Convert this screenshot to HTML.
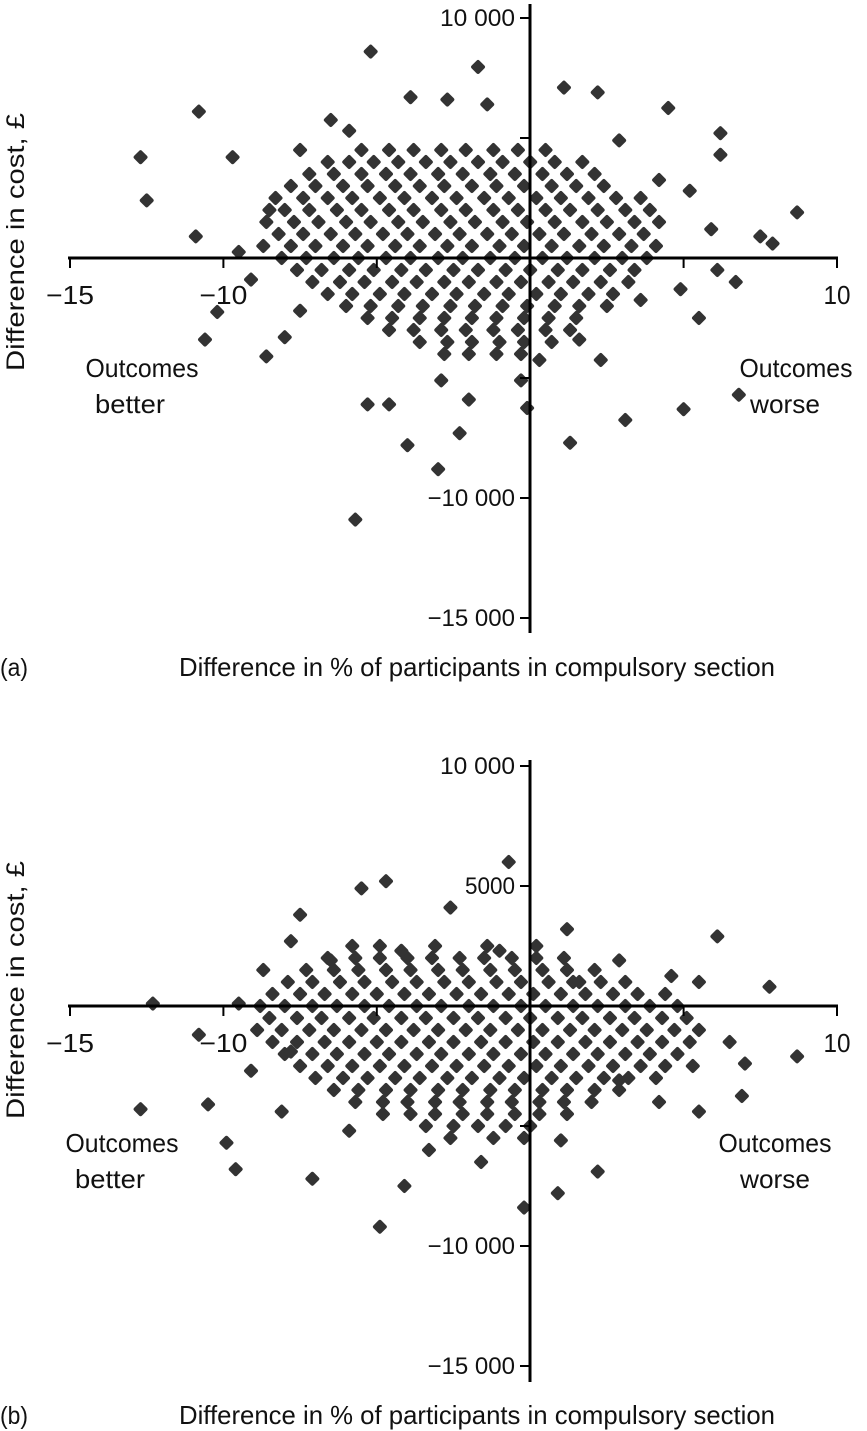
<!DOCTYPE html>
<html><head><meta charset="utf-8"><style>
html,body{margin:0;padding:0;background:#fff;}
svg{display:block;font-family:"Liberation Sans",sans-serif;}
text{fill:#111;}
</style></head><body>
<svg id="chart" width="867" height="1431" viewBox="0 0 867 1431" xmlns="http://www.w3.org/2000/svg"></svg>
<script>
const xTicks=[-15,-10,-5,0,5,10];
const xTickLabels=["−15","−10","","","","10"];
const yTicks=[10000,5000,0,-5000,-10000,-15000];
const yTickLabelsA=["10 000","","","","−10 000","−15 000"];
const yTickLabelsB=["10 000","5000","","","−10 000","−15 000"];
// panel a outliers [x %, y £k]
const outA=[[-5.2,8.6],[-1.7,7.96],[-10.8,6.1],[-12.7,4.2],[-12.5,2.4],[-9.7,4.2],[-10.9,0.9],[-9.5,0.25],[-10.2,-2.25],[-10.6,-3.4],[-8.6,-4.1],[-8.0,-3.3],[-5.3,-6.1],[-4.6,-6.1],[-4.0,-7.8],[-2.3,-7.3],[-3.0,-8.8],[-5.7,-10.9],[-0.1,-6.25],[1.3,-7.7],[3.1,-6.75],[5.0,-6.3],[6.8,-5.7],[6.7,-1.0],[6.1,-0.5],[8.7,1.9],[7.9,0.6],[7.5,0.9],[6.2,5.2],[6.2,4.3],[4.5,6.25],[2.2,6.9],[1.1,7.1],[-1.4,6.4],[-2.7,6.6],[-3.9,6.7],[-6.5,5.75],[5.9,1.2],[4.2,3.25],[5.2,2.8],[4.9,-1.3],[5.5,-2.5],[1.6,-3.4],[-0.3,-5.1],[-2.0,-5.9],[-2.9,-5.1],[-7.5,-2.2],[-9.1,-0.9],[-8.5,2.0],[-7.5,4.5],[-5.9,5.3],[2.9,4.9],[3.9,2.0],[3.6,-1.75],[2.3,-4.25],[0.3,-4.25]];
const coreRowYA=[4.5,4.0,3.5,3.0,2.5,2.0,1.5,1.0,0.5,0.0,-0.5,-1.0,-1.5,-2.0,-2.5,-3.0,-3.5,-4.0];
const coreRowXA=[
[-5.5,-4.6,-3.8,-2.9,-2.1,-1.2,-0.4,0.5],
[-6.6,-5.9,-5.1,-4.3,-3.4,-2.6,-1.7,-0.9,0.0,0.8,1.7],
[-7.2,-6.4,-5.5,-4.7,-3.9,-3.0,-2.2,-1.3,-0.5,0.4,1.2,2.1],
[-7.8,-7.0,-6.1,-5.3,-4.4,-3.6,-2.8,-1.9,-1.1,-0.2,0.7,1.5,2.4],
[-8.3,-7.4,-6.6,-5.8,-4.9,-4.1,-3.2,-2.4,-1.5,-0.7,0.2,1.0,1.9,2.8,3.6],
[-8.0,-7.2,-6.3,-5.5,-4.6,-3.8,-2.9,-2.1,-1.2,-0.4,0.5,1.3,2.2,3.1],
[-8.6,-7.7,-6.9,-6.0,-5.2,-4.3,-3.5,-2.6,-1.8,-0.9,-0.1,0.8,1.7,2.5,3.4,4.2],
[-8.2,-7.4,-6.5,-5.7,-4.8,-4.0,-3.1,-2.3,-1.4,-0.6,0.3,1.1,2.0,2.9,3.7],
[-8.7,-7.8,-7.0,-6.1,-5.3,-4.4,-3.6,-2.7,-1.9,-1.0,-0.2,0.7,1.6,2.4,3.3,4.1],
[-8.1,-7.3,-6.4,-5.6,-4.7,-3.9,-3.0,-2.2,-1.3,-0.5,0.4,1.2,2.1,3.0,3.8],
[-7.6,-6.8,-5.9,-5.1,-4.2,-3.4,-2.5,-1.7,-0.8,0.0,0.9,1.7,2.6,3.4],
[-7.1,-6.2,-5.4,-4.5,-3.7,-2.8,-2.0,-1.1,-0.3,0.6,1.4,2.3,3.2],
[-6.6,-5.8,-4.9,-4.1,-3.2,-2.4,-1.5,-0.7,0.2,1.0,1.9,2.7],
[-6.0,-5.2,-4.3,-3.5,-2.6,-1.8,-0.9,-0.1,0.8,1.6,2.5],
[-5.3,-4.5,-3.6,-2.8,-1.9,-1.1,-0.2,0.6,1.5],
[-4.6,-3.8,-2.9,-2.1,-1.2,-0.4,0.5,1.3],
[-3.6,-2.7,-1.9,-1.0,-0.2,0.7],
[-2.8,-2.0,-1.1,-0.3]];
// panel b
const outB=[[-0.7,6.0],[-4.7,5.2],[-5.5,4.9],[-7.5,3.8],[-2.6,4.1],[-12.3,0.1],[-12.7,-4.3],[-10.5,-4.1],[-9.9,-5.7],[-9.6,-6.8],[-7.1,-7.2],[-4.9,-9.2],[-4.1,-7.5],[-0.2,-8.4],[0.9,-7.8],[2.2,-6.9],[6.1,2.9],[7.8,0.8],[8.7,-2.1],[6.9,-3.75],[7.0,-2.4],[6.5,-1.5],[4.6,1.25],[5.5,1.0],[1.2,3.2],[-9.5,0.1],[-10.8,-1.2],[-8.7,1.5],[-7.8,2.7],[5.5,-4.4],[4.2,-4.0],[2.9,-3.1],[1.0,-5.6],[-1.6,-6.5],[-3.3,-6.0],[-5.9,-5.2],[-8.1,-4.4],[-9.1,-2.7],[-7.8,-1.9],[2.9,1.9],[1.6,1.0],[-1.0,2.3],[-4.2,2.3],[-6.5,1.9]];
const coreRowYB=[2.5,2.0,1.5,1.0,0.5,0.0,-0.5,-1.0,-1.5,-2.0,-2.5,-3.0,-3.5,-4.0,-4.5,-5.0,-5.5];
const coreRowXB=[
[-5.8,-4.9,-3.1,-1.4,0.2],
[-6.6,-5.7,-4.9,-4.0,-3.2,-2.3,-1.5,-0.6,0.2,1.1],
[-7.3,-6.4,-5.6,-4.7,-3.9,-3.0,-2.2,-1.3,-0.5,0.4,1.2,2.1],
[-7.9,-7.1,-6.2,-5.4,-4.5,-3.7,-2.8,-2.0,-1.1,-0.3,0.6,1.4,2.3,3.1],
[-8.4,-7.5,-6.7,-5.8,-5.0,-4.1,-3.3,-2.4,-1.6,-0.7,0.1,1.0,1.8,2.7,3.5,4.4],
[-8.8,-8.0,-7.1,-6.3,-5.4,-4.6,-3.7,-2.9,-2.0,-1.2,-0.3,0.5,1.4,2.2,3.1,3.9,4.8],
[-8.5,-7.6,-6.8,-5.9,-5.1,-4.2,-3.4,-2.5,-1.7,-0.8,0.0,0.9,1.7,2.6,3.4,4.3,5.1],
[-8.9,-8.1,-7.2,-6.4,-5.5,-4.7,-3.8,-3.0,-2.1,-1.3,-0.4,0.4,1.3,2.1,3.0,3.8,4.7,5.5],
[-8.4,-7.6,-6.7,-5.9,-5.0,-4.2,-3.3,-2.5,-1.6,-0.8,0.1,0.9,1.8,2.6,3.5,4.3,5.2],
[-8.0,-7.1,-6.3,-5.4,-4.6,-3.7,-2.9,-2.0,-1.2,-0.3,0.5,1.4,2.2,3.1,3.9,4.8],
[-7.5,-6.6,-5.8,-4.9,-4.1,-3.2,-2.4,-1.5,-0.7,0.2,1.0,1.9,2.7,3.6,4.4,5.3],
[-7.0,-6.1,-5.3,-4.4,-3.6,-2.7,-1.9,-1.0,-0.2,0.7,1.5,2.4,3.2,4.1],
[-6.4,-5.6,-4.7,-3.9,-3.0,-2.2,-1.3,-0.5,0.4,1.2,2.1,2.9],
[-5.7,-4.8,-4.0,-3.1,-2.3,-1.4,-0.6,0.3,1.1,2.0],
[-4.8,-3.9,-3.1,-2.2,-1.4,-0.5,0.3,1.2],
[-3.4,-2.5,-1.7,-0.8,0.0],
[-2.6,-1.2,-0.2]];

const NS="http://www.w3.org/2000/svg";
const svg=document.getElementById('chart');
function mk(tag,attrs,parent,txt){const e=document.createElementNS(NS,tag);for(const k in attrs)e.setAttribute(k,attrs[k]);if(txt!==undefined)e.textContent=txt;(parent||svg).appendChild(e);return e;}

function panel(id,y0,yTop,yBot,yLabels,outs,rowY,rowX,tag,qOff,qbX){
  const g=mk('g',{});
  
  
  const xs=v=>70+(v+15)*767/25;
  const ys=v=>y0-v*0.024;
  const pts=mk('g',{},g);
  
  
  function dot(x,yk){const px=xs(x),py=ys(yk*1000);
    const r=mk('rect',{x:px-5.5,y:py-5.5,width:11,height:11,rx:2,fill:'#333',transform:'rotate(45 '+px+' '+py+')'},pts);
    
    }
  rowY.forEach((yk,i)=>rowX[i].forEach(x=>dot(x,yk)));
  outs.forEach(p=>dot(p[0],p[1]));
  const xa=mk('line',{x1:68,x2:838,y1:ys(0),y2:ys(0),stroke:'#000','stroke-width':3},g);
  
  
  const ya=mk('line',{x1:530,x2:530,y1:yTop,y2:yBot,stroke:'#000','stroke-width':3},g);
  
  
  xTicks.forEach((t,i)=>{
    mk('line',{x1:xs(t),x2:xs(t),y1:ys(0),y2:ys(0)+10,stroke:'#000','stroke-width':2},g);
    if(xTickLabels[i]){const tx=mk('text',{x:xs(t),y:ys(0)+46,'text-anchor':'middle','font-size':26,textLength:xTickLabels[i].length>2?48:27,lengthAdjust:'spacingAndGlyphs'},g,xTickLabels[i]);
      
      }
  });
  yTicks.forEach((t,i)=>{
    mk('line',{x1:520,x2:530,y1:ys(t),y2:ys(t),stroke:'#000','stroke-width':2},g);
    if(yLabels[i]){const tx=mk('text',{x:515,y:ys(t)+8,'text-anchor':'end','font-size':24,textLength:yLabels[i].length*12.5,lengthAdjust:'spacingAndGlyphs'},g,yLabels[i]);
      
      }
  });
  const yt=mk('text',{x:0,y:0,'text-anchor':'middle','font-size':25,textLength:258,lengthAdjust:'spacingAndGlyphs',transform:'translate(24 '+(ys(0)-16)+') rotate(-90)'},g,'Difference in cost, £');
  
  
  const xt=mk('text',{x:477,y:ys(0)+418,'text-anchor':'middle','font-size':26,textLength:596,lengthAdjust:'spacingAndGlyphs'},g,'Difference in % of participants in compulsory section');
  
  
  const pl=mk('text',{x:0,y:ys(0)+418,'font-size':25,textLength:28,lengthAdjust:'spacingAndGlyphs'},g,tag);
  
  
  const qb=mk('text',{x:qbX,y:ys(0)+qOff,'text-anchor':'middle','font-size':26},g);
  
  
  mk('tspan',{x:qbX,dy:0,textLength:113,lengthAdjust:'spacingAndGlyphs'},qb,'Outcomes');
  mk('tspan',{x:qbX-12,dy:36,textLength:70,lengthAdjust:'spacingAndGlyphs'},qb,'better');
  const rx=id==='a'?796:775;
  const qw=mk('text',{x:rx,y:ys(0)+qOff,'text-anchor':'middle','font-size':26},g);
  
  
  mk('tspan',{x:rx,dy:0,textLength:113,lengthAdjust:'spacingAndGlyphs'},qw,'Outcomes');
  mk('tspan',{x:rx-(id==='a'?11:0),dy:36,textLength:70,lengthAdjust:'spacingAndGlyphs'},qw,'worse');
}
panel('a',258,4,633,yTickLabelsA,outA,coreRowYA,coreRowXA,'(a)',119,142);
panel('b',1006,760,1382,yTickLabelsB,outB,coreRowYB,coreRowXB,'(b)',146,122);
</script>
</body></html>
